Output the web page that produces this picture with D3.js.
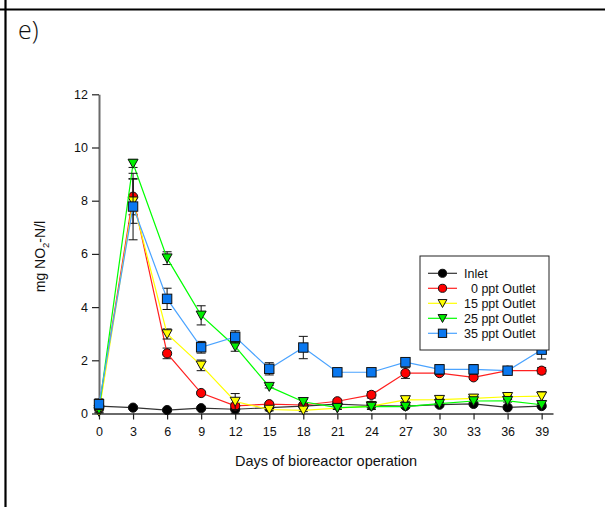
<!DOCTYPE html>
<html>
<head>
<meta charset="utf-8">
<script src="https://cdn.jsdelivr.net/npm/d3@7"></script>
<style>
  html, body { margin: 0; padding: 0; background: #fff; }
  svg { display: block; }
  text { font-family: "Liberation Sans", Arial, sans-serif; fill: #111; }
</style>
</head>
<body>
<svg id="chart" width="605" height="507"></svg>
<script>
// Sampling days
const days = [0, 3, 6, 9, 12, 15, 18, 21, 24, 27, 30, 33, 36, 39];

// NO2-N concentrations (mg/l), mean and error per sampling day
const inletVals = [0.28, 0.22, 0.13, 0.20, 0.16, 0.22, 0.28, 0.35, 0.30, 0.28, 0.33, 0.36, 0.23, 0.28];
const inletErr  = [0.10, 0.05, 0.05, 0.05, 0.15, 0.05, 0.05, 0.05, 0.15, 0.05, 0.05, 0.05, 0.05, 0.05];
const ppt0Vals  = [0.20, 8.15, 2.26, 0.77, 0.29, 0.35, 0.32, 0.46, 0.70, 1.52, 1.52, 1.36, 1.61, 1.61];
const ppt0Err   = [0.10, 0.68, 0.20, 0.06, 0.10, 0.06, 0.06, 0.06, 0.12, 0.20, 0.06, 0.08, 0.05, 0.12];
const ppt15Vals = [0.07, 7.98, 2.99, 1.81, 0.45, 0.15, 0.12, 0.20, 0.28, 0.51, 0.52, 0.57, 0.63, 0.65];
const ppt15Err  = [0.05, 0.83, 0.19, 0.20, 0.30, 0.05, 0.05, 0.05, 0.05, 0.05, 0.05, 0.05, 0.06, 0.17];
const ppt25Vals = [0.15, 9.40, 5.84, 3.69, 2.52, 1.01, 0.44, 0.22, 0.26, 0.26, 0.37, 0.47, 0.48, 0.33];
const ppt25Err  = [0.10, 0.15, 0.24, 0.36, 0.18, 0.05, 0.08, 0.05, 0.05, 0.05, 0.05, 0.05, 0.05, 0.05];
const ppt35Vals = [0.35, 7.78, 4.31, 2.49, 2.88, 1.68, 2.48, 1.55, 1.55, 1.93, 1.66, 1.66, 1.61, 2.40];
const ppt35Err  = [0.20, 1.25, 0.40, 0.22, 0.23, 0.23, 0.42, 0.10, 0.05, 0.10, 0.18, 0.18, 0.08, 0.35];

// Axis ticks
const xTicks = [0, 3, 6, 9, 12, 15, 18, 21, 24, 27, 30, 33, 36, 39];
const yTicks = [0, 2, 4, 6, 8, 10, 12];

// Series names, in drawing order
const seriesNames = ["Inlet", "\u20070 ppt Outlet", "15 ppt Outlet", "25 ppt Outlet", "35 ppt Outlet"];

const series = [
  { name: seriesNames[0], vals: inletVals, err: inletErr, line: "#333333", fill: "#000000", shape: "circle" },
  { name: seriesNames[1], vals: ppt0Vals,  err: ppt0Err,  line: "#ff2020", fill: "#ff0000", shape: "circle" },
  { name: seriesNames[2], vals: ppt15Vals, err: ppt15Err, line: "#ffff00", fill: "#ffff00", shape: "triangle" },
  { name: seriesNames[3], vals: ppt25Vals, err: ppt25Err, line: "#00ff00", fill: "#00ee00", shape: "triangle" },
  { name: seriesNames[4], vals: ppt35Vals, err: ppt35Err, line: "#4aa3ff", fill: "#0a78f0", shape: "square" }
];

const svg = d3.select("#chart");

// Panel frame (top and left rules)
svg.append("line").attr("x1", 0).attr("x2", 605).attr("y1", 9.5).attr("y2", 9.5)
  .attr("stroke", "#000").attr("stroke-width", 2.2);
svg.append("line").attr("x1", 5.5).attr("x2", 5.5).attr("y1", 0).attr("y2", 507)
  .attr("stroke", "#000").attr("stroke-width", 2.2);

svg.append("text").attr("x", 18).attr("y", 39)
  .style("font-family", "'Open Sans', 'Liberation Sans', sans-serif")
  .style("font-size", "25px").style("font-weight", 300).text("e)");

const x = d3.scaleLinear().domain([0, 40]).range([99, 553]);
const y = d3.scaleLinear().domain([0, 12]).range([413.5, 94.3]);

// Axes
const xAxis = svg.append("g").attr("transform", `translate(0,${y(0)})`)
  .call(d3.axisBottom(x).tickValues(xTicks).tickSizeInner(6).tickSizeOuter(0).tickPadding(8));
const yAxis = svg.append("g").attr("transform", `translate(${x(0)},0)`)
  .call(d3.axisLeft(y).tickValues(yTicks).tickSizeInner(7).tickSizeOuter(0).tickPadding(4));

[xAxis, yAxis].forEach(g => {
  g.select(".domain").attr("stroke", "#6a6a6a").attr("stroke-width", 2);
  g.selectAll(".tick line").attr("stroke", "#222").attr("stroke-width", 1.2);
  g.selectAll(".tick text").style("font-size", "12.5px").attr("fill", "#111")
    .style("font-family", "'Liberation Sans', Arial, sans-serif");
});

// Axis titles
svg.append("text").attr("x", x(20)).attr("y", 466).attr("text-anchor", "middle")
  .style("font-size", "14.5px").text("Days of bioreactor operation");

const yTitle = svg.append("text")
  .attr("transform", `translate(45,${y(5.9)}) rotate(-90)`)
  .attr("text-anchor", "middle").style("font-size", "14px");
yTitle.append("tspan").text("mg NO");
yTitle.append("tspan").attr("dy", 4).style("font-size", "9.5px").text("2");
yTitle.append("tspan").attr("dy", -4).text("-N/l");

// Marker drawing helper
function marker(g, shape, cx, cy, fill, s) {
  if (shape === "circle") {
    g.append("circle").attr("cx", cx).attr("cy", cy).attr("r", 4.6 * s)
      .attr("fill", fill).attr("stroke", "#111").attr("stroke-width", 1);
  } else if (shape === "square") {
    const h = 4.7 * s;
    g.append("rect").attr("x", cx - h).attr("y", cy - h).attr("width", 2 * h).attr("height", 2 * h)
      .attr("fill", fill).attr("stroke", "#111").attr("stroke-width", 1);
  } else {
    const h = 5 * s;
    g.append("path")
      .attr("d", `M${cx - h},${cy - h * 0.85}L${cx + h},${cy - h * 0.85}L${cx},${cy + h * 0.95}Z`)
      .attr("fill", fill).attr("stroke", "#111").attr("stroke-width", 1);
  }
}

const line = d3.line().x(d => x(d[0])).y(d => y(d[1]));

series.forEach(s => {
  const g = svg.append("g");
  const pts = days.map((d, i) => [d, s.vals[i], s.err[i]]);
  // error bars
  pts.forEach(p => {
    const top = y(p[1] + p[2]), bot = y(Math.max(0, p[1] - p[2]));
    g.append("line").attr("x1", x(p[0])).attr("x2", x(p[0])).attr("y1", top).attr("y2", bot)
      .attr("stroke", "#111").attr("stroke-width", 1);
    [top, bot].forEach(yy => g.append("line")
      .attr("x1", x(p[0]) - 4.5).attr("x2", x(p[0]) + 4.5).attr("y1", yy).attr("y2", yy)
      .attr("stroke", "#111").attr("stroke-width", 1));
  });
  g.append("path").attr("d", line(pts)).attr("fill", "none")
    .attr("stroke", s.line).attr("stroke-width", 1.2);
  pts.forEach(p => marker(g, s.shape, x(p[0]), y(p[1]), s.fill, 1));
});

// Legend
const lg = svg.append("g");
lg.append("rect").attr("x", 420).attr("y", 256).attr("width", 129).attr("height", 94)
  .attr("fill", "#fff").attr("stroke", "#222").attr("stroke-width", 1);
series.forEach((s, i) => {
  const yy = 273.3 + i * 15;
  lg.append("line").attr("x1", 428).attr("x2", 457).attr("y1", yy).attr("y2", yy)
    .attr("stroke", s.line).attr("stroke-width", 1.2);
  marker(lg, s.shape, 442.5, yy, s.fill, 0.88);
  lg.append("text").attr("x", 464).attr("y", yy + 4.3).style("font-size", "12.5px").text(s.name);
});
</script>
</body>
</html>
